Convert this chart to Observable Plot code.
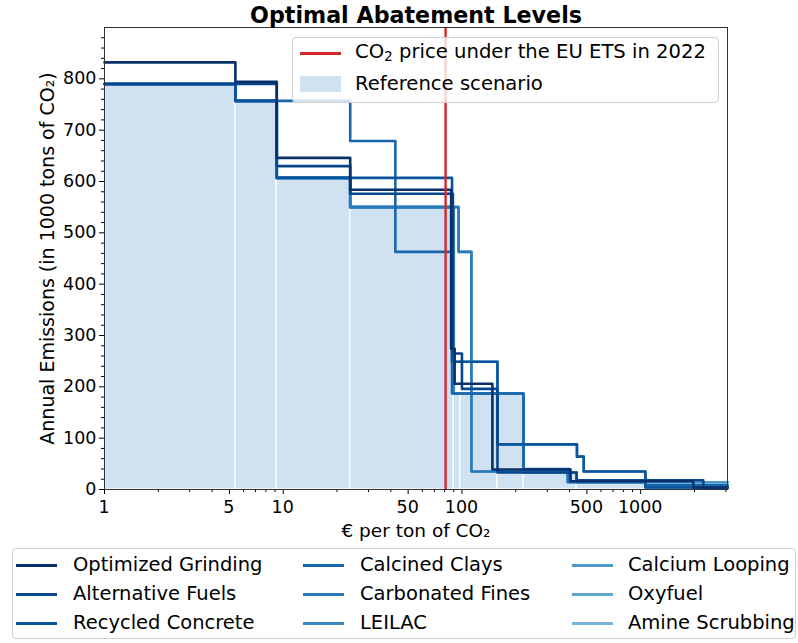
<!DOCTYPE html>
<html><head><meta charset="utf-8">
<script src="https://cdn.jsdelivr.net/npm/d3@7"></script>
<script src="https://cdn.jsdelivr.net/npm/@observablehq/plot@0.6"></script>
<style>
body{margin:0;background:#fff;font-family:"DejaVu Sans",sans-serif;}
#wrap{position:relative;width:798px;height:643px;overflow:hidden;}
.lg{position:absolute;box-sizing:border-box;border:1px solid #cfcfcf;border-radius:4px;background:rgba(255,255,255,0.8);}
.sw{position:absolute;}
.tx{position:absolute;white-space:nowrap;line-height:22px;color:#000;}
.xt{position:absolute;z-index:5;white-space:nowrap;font-size:17.5px;line-height:20px;transform:translateX(-50%);color:#000;outline:1px solid #fff;}
sub{font-size:0.7em;vertical-align:-0.25em;line-height:0;}
</style></head><body><div id="wrap"></div>
<script>
// ---- data ----
const xEnd = 3060;
const co2Price = 81;
const scenarioNames = ["Optimized Grinding","Alternative Fuels","Recycled Concrete","Calcined Clays","Carbonated Fines","LEILAC","Calcium Looping","Oxyfuel","Amine Scrubbing"];
const grindingX = [1,5.4,9.2,23.7,87,91,148,405,1970];
const grindingY = [832,794,646,584,274,206,39,16,4];
const fuelsX = [1,9.2,23.7,89,100,158,438,2240];
const fuelsY = [790,630,576,265,196,33,18,2];
const concreteX = [1,5.4,9.2,88,158,440,480,1063];
const concreteY = [790,757,607,249,88,64,35,4];
const claysX = [1,5.4,23.7,42.4,88,221,400,1063];
const claysY = [790,757,679,463,187,40,16,8];
const finesX = [1,5.4,9.2,23.7,95.7,113,390,1063];
const finesY = [790,757,607,550,463,35,14,4];
const leilacX = [1,5.4,9.2,23.7,90,221,438,1063];
const leilacY = [790,757,607,550,187,33,14,8];
const loopingX = [1,5.4,9.2,23.7,88,158,440,480,1063];
const loopingY = [790,757,607,550,249,88,64,35,14];
const oxyfuelX = [1,5.4,9.2,23.7,90,221,438,1063];
const oxyfuelY = [790,757,607,550,187,33,14,14];
const amineX = [1,5.4,9.2,23.7,95.7,113,390,1063];
const amineY = [790,757,607,550,463,35,14,14];
const refX = [1,5.4,9.2,23.7,90,98,158,221,438,1063];
const refY = [790,757,607,550,187,187,187,33,14,7];
const xTicks = [1,5,10,50,100,500,1000];
const yTicks = [0,100,200,300,400,500,600,700,800];

// ---- styles ----
const colors = ["#08306b","#08468b","#0b559f","#1966ad","#2979b9","#3a8ac2","#4d99ca","#5fa6d1","#75b4d8"];
const refFill = "#d0e1f2";
const red = "#d62728";

const seriesX = [grindingX,fuelsX,concreteX,claysX,finesX,leilacX,loopingX,oxyfuelX,amineX];
const seriesY = [grindingY,fuelsY,concreteY,claysY,finesY,leilacY,loopingY,oxyfuelY,amineY];
const rows = [];
for (let i = scenarioNames.length-1; i >= 0; i--) {
  const n = scenarioNames[i];
  seriesX[i].forEach((x,j)=>rows.push({name:n,x,y:seriesY[i][j]}));
  rows.push({name:n,x:xEnd,y:seriesY[i][seriesY[i].length-1]});
}
const refRows = refX.map((x,i)=>({x1:x,x2:i<refX.length-1?refX[i+1]:xEnd,y:refY[i]}));
const minorX = [];
for (const d of [1,10,100,1000]) for (let k=2;k<=9;k++){ if(d*k<=xEnd && !xTicks.includes(d*k)) minorX.push(d*k); }
const minorY = d3.range(0,900,20).filter(v=>v%100!==0);
const blank = () => "";

const chart = Plot.plot({
  width:798, height:643,
  marginTop:27, marginLeft:104, marginRight:71, marginBottom:154,
  style:{fontFamily:"DejaVu Sans, sans-serif", fontSize:"17.5px", color:"#000", background:"transparent"},
  x:{type:"log", domain:[1,xEnd]},
  y:{domain:[0,900]},
  color:{domain:scenarioNames, range:colors},
  marks:[
    Plot.rectY(refRows,{x1:"x1",x2:"x2",y:"y",fill:refFill,stroke:"white",strokeWidth:1.2}),
    Plot.line(rows,{x:"x",y:"y",z:"name",stroke:"name",curve:"step-after",strokeWidth:2.6}),
    Plot.ruleX([co2Price],{stroke:red,strokeWidth:2.4}),
    Plot.axisX({ticks:minorX,tickSize:3,tickFormat:blank,label:null}),
    Plot.axisX({ticks:xTicks,tickSize:5,tickFormat:blank,label:null}),
    Plot.axisY({ticks:minorY,tickSize:3,tickFormat:blank,label:null}),
    Plot.axisY({ticks:yTicks,tickSize:5,tickPadding:3,label:null,fontSize:17.5}),
    Plot.frame({stroke:"#333"}),
    Plot.text(["Optimal Abatement Levels"],{frameAnchor:"top",lineAnchor:"middle",dy:-12,fontWeight:"bold",fontSize:22.2}),
    Plot.text(["€ per ton of CO₂"],{frameAnchor:"bottom",lineAnchor:"middle",dy:42,fontSize:18.5}),
    Plot.text(["Annual Emissions (in 1000 tons of CO₂)"],{frameAnchor:"left",textAnchor:"middle",lineAnchor:"middle",dx:-57,rotate:-90,fontSize:19})
  ]
});
const wrap = document.getElementById("wrap");
chart.style.position="absolute"; chart.style.left="0"; chart.style.top="0";
wrap.appendChild(chart);

function add(cls, css, html){const d=document.createElement("div");d.className=cls;Object.assign(d.style,css);if(html)d.innerHTML=html;wrap.appendChild(d);return d;}
// in-plot legend
add("lg",{left:"292px",top:"37px",width:"427px",height:"66px"});
add("sw",{left:"300px",top:"52px",width:"41px",height:"2.5px",background:red});
add("tx",{left:"355px",top:"41px",fontSize:"19.6px"},"CO<sub>2</sub> price under the EU ETS in 2022");
add("sw",{left:"300px",top:"76px",width:"41px",height:"16px",background:refFill});
add("tx",{left:"355px",top:"73px",fontSize:"19.6px"},"Reference scenario");
// bottom legend
add("lg",{left:"12px",top:"548px",width:"784px",height:"91px",background:"#fff"});
const colLine=[16,303,572], colText=[73,360,628], rowY=[565,594,623];
scenarioNames.forEach((n,i)=>{
  const c=Math.floor(i/3), r=i%3;
  add("sw",{left:colLine[c]+"px",top:(rowY[r]-1.5)+"px",width:"41px",height:"3px",background:colors[i]});
  add("tx",{left:colText[c]+"px",top:(rowY[r]-11)+"px",fontSize:"19.5px"},n);
});
// x tick labels placed with the plot's own x scale (added last, on top)
const sx = chart.scale("x");
xTicks.forEach(t=>add("xt",{left:sx.apply(t)+"px",top:"497px"},String(t)));
</script></body></html>
